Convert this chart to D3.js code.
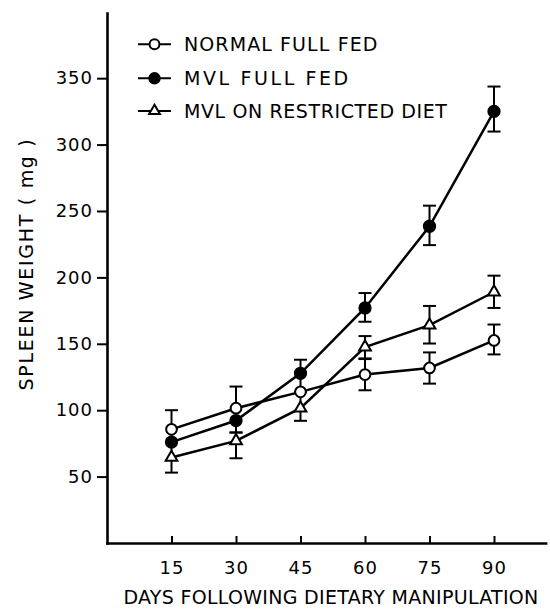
<!DOCTYPE html>
<html>
<script src="https://d3js.org/d3.v7.min.js"></script>
<body style="margin:0; background:#fff">
<svg id="chart" width="550" height="611"></svg>
<script>
// values
const days = [15, 30, 45, 60, 75, 90]
const normalFed = [85.6, 101.5, 113.8, 126.8, 131.8, 152.5]
const mvlFed = [76, 92.2, 127.8, 177, 238.5, 325]
const mvlRestricted = [64.4, 76.9, 101.5, 147.5, 164, 189]
// error bar ends, null where no bar shows; some ends stop inside a neighbour's marker
const normalHi = [100, 117.8, null, 138.5, 143.5, 164.5]
const normalLo = [76, null, null, 115, 120, 142]
const mvlHi = [null, null, 138, 188.2, 254, 343.7]
const mvlLo = [null, 83.2, 113.8, 166.6, 224.3, 309.8]
const restrictedHi = [76, 83.2, 113.8, 155.8, 178.5, 201.3]
const restrictedLo = [53, 63.8, 92, 139, 150.2, 177]
const yTicks = [50, 100, 150, 200, 250, 300, 350]
const seriesNames = ["NORMAL FULL FED", "MVL FULL FED", "MVL ON RESTRICTED DIET"]

const font = "'DejaVu Sans', sans-serif"
const svg = d3.select("#chart")

const x = d3.scaleLinear().domain([0, 102]).range([107, 545.6])
const y = d3.scaleLinear().domain([0, 399]).range([543, 13.1])

const series = [
  {name: seriesNames[0], values: normalFed, hi: normalHi, lo: normalLo, symbol: d3.symbolCircle, size: 90, fill: "#fff"},
  {name: seriesNames[1], values: mvlFed, hi: mvlHi, lo: mvlLo, symbol: d3.symbolCircle, size: 100, fill: "#000"},
  {name: seriesNames[2], values: mvlRestricted, hi: restrictedHi, lo: restrictedLo, symbol: d3.symbolTriangle, size: 60, fill: "#fff"}
]

// axes
const yAxis = svg.append("g")
    .attr("transform", "translate(" + x(0) + ",0)")
    .call(d3.axisLeft(y).tickValues(yTicks).tickSize(10).tickPadding(4).tickSizeOuter(0))
const xAxis = svg.append("g")
    .attr("transform", "translate(0," + y(0) + ")")
    .call(d3.axisBottom(x).tickValues(days).tickSizeInner(-7).tickSizeOuter(0).tickPadding(18))

for (const g of [xAxis, yAxis]) {
  g.attr("font-family", font).attr("font-size", 18)
  g.select(".domain").attr("stroke-width", 2.6).attr("stroke-linecap", "square")
  g.selectAll(".tick line").attr("stroke-width", 2)
  g.selectAll(".tick text").attr("fill", "#000").attr("letter-spacing", 1)
}

// lines
const line = d3.line().x((d, i) => x(days[i])).y(d => y(d))
svg.selectAll(".series")
  .data(series)
  .join("path")
    .attr("fill", "none")
    .attr("stroke", "#000")
    .attr("stroke-width", 2.5)
    .attr("d", d => line(d.values))

// error bars
const bars = []
series.forEach(s => days.forEach((day, i) => {
  if (s.hi[i] != null) bars.push({day: day, from: s.values[i], to: s.hi[i]})
  if (s.lo[i] != null) bars.push({day: day, from: s.values[i], to: s.lo[i]})
}))
svg.selectAll(".bar")
  .data(bars)
  .join("line")
    .attr("x1", d => x(d.day)).attr("x2", d => x(d.day))
    .attr("y1", d => y(d.from)).attr("y2", d => y(d.to))
    .attr("stroke", "#000").attr("stroke-width", 2)
svg.selectAll(".cap")
  .data(bars)
  .join("line")
    .attr("x1", d => x(d.day) - 6.5).attr("x2", d => x(d.day) + 6.5)
    .attr("y1", d => y(d.to)).attr("y2", d => y(d.to))
    .attr("stroke", "#000").attr("stroke-width", 2)

// markers
series.forEach(s => {
  svg.selectAll(null)
    .data(s.values)
    .join("path")
      .attr("transform", (d, i) => "translate(" + x(days[i]) + "," + y(d) + ")")
      .attr("d", d3.symbol(s.symbol, s.size))
      .attr("fill", s.fill)
      .attr("stroke", "#000")
      .attr("stroke-width", 2)
})

// legend
const legendRows = [44.2, 78.3, 110.9]
const legendSpacing = [1.1, 2.6, 0.6]
const legend = svg.selectAll(".legend")
  .data(series)
  .join("g")
    .attr("transform", (d, i) => "translate(0," + legendRows[i] + ")")
legend.append("line")
    .attr("x1", 138).attr("x2", 171)
    .attr("stroke", "#000").attr("stroke-width", 2)
legend.append("path")
    .attr("transform", "translate(154.5,0)")
    .attr("d", d => d3.symbol(d.symbol, d.size * 0.85)())
    .attr("fill", d => d.fill)
    .attr("stroke", "#000")
    .attr("stroke-width", 2)
legend.append("text")
    .attr("x", 184)
    .attr("dy", "0.36em")
    .attr("font-family", font)
    .attr("font-size", 19)
    .attr("letter-spacing", (d, i) => legendSpacing[i])
    .text(d => d.name)

// axis titles
svg.append("text")
    .attr("x", 331)
    .attr("y", 604)
    .attr("text-anchor", "middle")
    .attr("font-family", font)
    .attr("font-size", 19)
    .attr("letter-spacing", 0.3)
    .text("DAYS FOLLOWING DIETARY MANIPULATION")
svg.append("text")
    .attr("transform", "translate(33,264) rotate(-90)")
    .attr("text-anchor", "middle")
    .attr("font-family", font)
    .attr("font-size", 19)
    .attr("letter-spacing", 1.7)
    .text("SPLEEN WEIGHT ( mg )")
</script>
</body>
</html>
